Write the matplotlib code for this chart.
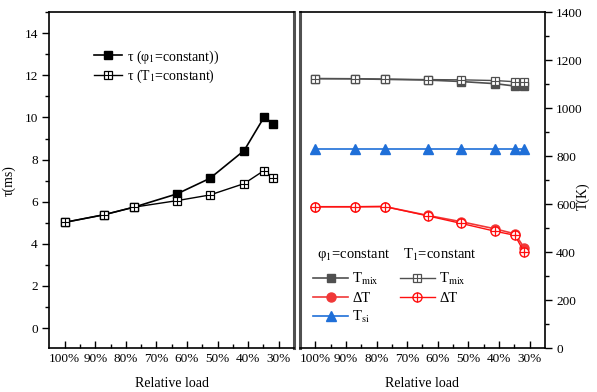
import numpy as np
import matplotlib
matplotlib.use("Agg")
import matplotlib.pyplot as plt
from matplotlib.ticker import MultipleLocator, FixedLocator
from matplotlib.legend_handler import HandlerTuple

plt.rcParams['font.family'] = 'serif'
plt.rcParams['font.serif'] = ['Liberation Serif', 'DejaVu Serif']
plt.rcParams['mathtext.fontset'] = 'stix'
plt.rcParams['font.size'] = 9.5

# relative load (%) of each operating point
load = [100, 87.2, 77.4, 63.3, 52.5, 41.3, 34.8, 31.8]

# left panel: tau (ms)
tau_phi = [5.02, 5.38, 5.74, 6.37, 7.11, 8.43, 10.01, 9.71]
tau_T1 = [5.02, 5.38, 5.74, 6.05, 6.32, 6.86, 7.48, 7.14]

# right panel: temperatures (K)
tmix_phi = [1123, 1122, 1120, 1117, 1111, 1102, 1092, 1092]
tmix_T1 = [1123, 1123, 1121, 1119, 1118, 1115, 1110, 1110]
dT_phi = [589, 589, 590, 553, 527, 497, 476, 418]
dT_T1 = [589, 589, 590, 551, 520, 487, 470, 399]
tsi_phi = [831, 831, 831, 831, 831, 831, 831, 831]

xticks = [100, 90, 80, 70, 60, 50, 40, 30]
xticklabels = ['100%', '90%', '80%', '70%', '60%', '50%', '40%', '30%']

gray = '#505050'
red = '#f03838'
red2 = '#ff1010'
blue = '#1f6fd8'

fig = plt.figure(figsize=(5.97, 3.92), dpi=100)
ax1 = fig.add_axes([0.0829, 0.112, 0.4095, 0.857])
ax2 = fig.add_axes([0.5025, 0.112, 0.4104, 0.857])

for ax in (ax1, ax2):
    ax.set_xlim(105, 25)
    ax.xaxis.set_major_locator(FixedLocator(xticks))
    ax.set_xticklabels(xticklabels)
    ax.xaxis.set_minor_locator(FixedLocator([95, 85, 75, 65, 55, 45, 35]))
    ax.tick_params(axis='x', which='both', direction='in', top=False)
    ax.tick_params(axis='x', which='major', length=5, width=1)
    ax.tick_params(axis='x', which='minor', length=3, width=1)
    ax.set_xlabel('Relative load', labelpad=9, fontsize=10)
    for s in ax.spines.values():
        s.set_linewidth(1.2)

# ---- left ----
l1, = ax1.plot(load, tau_phi, color='black', lw=1.2, marker='s', ms=5.5,
               mfc='black', mec='black')
l2, = ax1.plot(load, tau_T1, color='black', lw=1.0, marker='s', ms=5.5,
               mfc='white', mec='black', mew=0.9)
l2p, = ax1.plot(load, tau_T1, ls='none', marker='+', ms=5.5, mec='black', mew=0.8)
ax1.set_ylim(-0.95, 15)
ax1.yaxis.set_major_locator(MultipleLocator(2))
ax1.yaxis.set_minor_locator(MultipleLocator(1))
ax1.tick_params(axis='y', which='both', direction='out', right=False)
ax1.tick_params(axis='y', which='major', length=5, width=1)
ax1.tick_params(axis='y', which='minor', length=3, width=1)
ax1.set_ylabel('τ(ms)', labelpad=6, fontsize=10)
ax1.spines['right'].set_linewidth(2.2)
ax1.spines['right'].set_color(gray)
ax1.legend([l1, (l2, l2p)],
           ['τ (φ$_1$=constant))', 'τ (T$_1$=constant)'],
           handler_map={tuple: HandlerTuple(ndivide=1)},
           loc='upper left', bbox_to_anchor=(0.13, 0.93), frameon=False,
           fontsize=10, handlelength=2.0, handletextpad=0.4,
           labelspacing=0.15)

# ---- right ----
h1, = ax2.plot(load, tmix_phi, color=gray, lw=1.2, marker='s', ms=5.5,
               mfc=gray, mec=gray)
h2, = ax2.plot(load, tmix_T1, color=gray, lw=1.0, marker='s', ms=5.5,
               mfc='white', mec=gray, mew=0.9)
h2p, = ax2.plot(load, tmix_T1, ls='none', marker='+', ms=5.5, mec=gray, mew=0.8)
h3, = ax2.plot(load, dT_phi, color=red, lw=1.2, marker='o', ms=6.5,
               mfc=red, mec=red)
h4, = ax2.plot(load, dT_T1, color=red2, lw=1.0, marker='o', ms=6.5,
               mfc='white', mec=red2, mew=1.0)
h4p, = ax2.plot(load, dT_T1, ls='none', marker='+', ms=6.5, mec=red2, mew=0.9)
h5, = ax2.plot(load, tsi_phi, color=blue, lw=1.2, marker='^', ms=7,
               mfc=blue, mec=blue)
ax2.set_ylim(0, 1400)
ax2.yaxis.set_major_locator(MultipleLocator(200))
ax2.yaxis.set_minor_locator(MultipleLocator(100))
ax2.yaxis.tick_right()
ax2.tick_params(axis='y', which='both', direction='out', left=False, right=True)
ax2.tick_params(axis='y', which='major', length=5, width=1, pad=3)
ax2.tick_params(axis='y', which='minor', length=3, width=1)
ax2.spines['left'].set_linewidth(2.2)
ax2.spines['left'].set_color(gray)
fig.text(583 / 597, 0.5, 'T(K)', rotation=90, ha='center', va='center',
         fontsize=10)

ax2.legend([h1, h3, h5, (h2, h2p), (h4, h4p)],
           ['T$_{\\mathrm{mix}}$', 'ΔT', 'T$_{\\mathrm{si}}$',
            'T$_{\\mathrm{mix}}$', 'ΔT'],
           handler_map={tuple: HandlerTuple(ndivide=1)},
           ncol=2, loc='upper left', bbox_to_anchor=(0.0, 0.268),
           frameon=False, fontsize=10.5, handlelength=2.4, handletextpad=0.3,
           labelspacing=0.3, columnspacing=1.4)
ax2.text(0.07, 0.253, 'φ$_1$=constant', transform=ax2.transAxes,
         ha='left', va='bottom', fontsize=10.5)
ax2.text(0.42, 0.253, 'T$_1$=constant', transform=ax2.transAxes,
         ha='left', va='bottom', fontsize=10.5)

fig.savefig('out.png', dpi=100)
